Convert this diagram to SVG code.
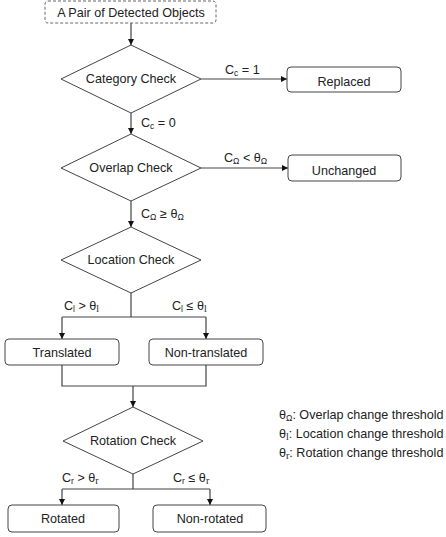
<svg xmlns="http://www.w3.org/2000/svg" width="446" height="537" viewBox="0 0 446 537">
<style>
text{font-family:"Liberation Sans",Arial,sans-serif;font-size:12.6px;fill:#222}
.c{text-anchor:middle}
.s{font-size:8.5px}
.sf{font-family:"Liberation Serif",serif;font-size:10px}
.box{fill:#fff;stroke:#444;stroke-width:1}
.dia{fill:#fff;stroke:#444;stroke-width:1}
.ln{fill:none;stroke:#444;stroke-width:1.2}
.ar{fill:none;stroke:#444;stroke-width:1.2;marker-end:url(#ah)}
</style>
<defs>
<marker id="ah" viewBox="0 0 10 10" refX="10" refY="5" markerWidth="6" markerHeight="6" markerUnits="userSpaceOnUse" orient="auto">
<path d="M0,0 L10,5 L0,10 z" fill="#111"/>
</marker>
</defs>
<rect width="446" height="537" fill="#fff"/>
<g id="connectors">
<path class="ar" d="M131,23 V45"/>
<path class="ar" d="M201,79 H287"/>
<path class="ar" d="M131,113 V134"/>
<path class="ar" d="M201,168 H288"/>
<path class="ar" d="M131,201 V227"/>
<path class="ln" d="M131,293 V317 M62,317 H206"/>
<path class="ar" d="M62,317 V339"/>
<path class="ar" d="M206,317 V339"/>
<path class="ln" d="M62,365 V386 H206 V365"/>
<path class="ar" d="M133,386 V407"/>
<path class="ln" d="M133,474 V489 M62,489 H210"/>
<path class="ar" d="M62,489 V505"/>
<path class="ar" d="M210,489 V505"/>
</g>
<g id="labels">
<text x="225" y="74">C<tspan class="s" dy="2">c</tspan><tspan dy="-2"> = 1</tspan></text>
<text x="141" y="127">C<tspan class="s" dy="2">c</tspan><tspan dy="-2"> = 0</tspan></text>
<text x="224" y="162">C<tspan class="s" dy="2">Ω</tspan><tspan dy="-2"> &lt; θ</tspan><tspan class="s" dy="2">Ω</tspan></text>
<text x="141" y="218">C<tspan class="s" dy="2">Ω</tspan><tspan dy="-2"> ≥ θ</tspan><tspan class="s" dy="2">Ω</tspan></text>
<text x="64" y="310">C<tspan class="s" dy="2">l</tspan><tspan dy="-2"> &gt; θ</tspan><tspan class="sf" dy="2">l</tspan></text>
<text x="172" y="310">C<tspan class="s" dy="2">l</tspan><tspan dy="-2"> ≤ θ</tspan><tspan class="sf" dy="2">l</tspan></text>
<text x="62" y="482">C<tspan class="s" dy="2">r</tspan><tspan dy="-2"> &gt; θ</tspan><tspan class="sf" dy="2">r</tspan></text>
<text x="173" y="482">C<tspan class="s" dy="2">r</tspan><tspan dy="-2"> ≤ θ</tspan><tspan class="sf" dy="2">r</tspan></text>
</g>
<g id="start">
<rect x="45" y="1" width="171" height="22" rx="3" fill="#fff" stroke="#666" stroke-dasharray="3,2"/>
<text class="c" x="131" y="17">A Pair of Detected Objects</text>
</g>
<g id="category">
<polygon class="dia" points="131,45 201,79 131,113 61,79"/>
<text class="c" x="131" y="83">Category Check</text>
</g>
<g id="replaced">
<rect class="box" x="287" y="67" width="114" height="25" rx="4"/>
<text class="c" x="344" y="86">Replaced</text>
</g>
<g id="overlap">
<polygon class="dia" points="131,134 201,168 131,201 61,168"/>
<text class="c" x="131" y="172">Overlap Check</text>
</g>
<g id="unchanged">
<rect class="box" x="288" y="155" width="113" height="26" rx="4"/>
<text class="c" x="344" y="175">Unchanged</text>
</g>
<g id="location">
<polygon class="dia" points="131,227 201,260 131,293 61,260"/>
<text class="c" x="131" y="264">Location Check</text>
</g>
<g id="translated">
<rect class="box" x="5" y="339" width="114" height="26" rx="4"/>
<text class="c" x="62" y="357">Translated</text>
</g>
<g id="nontranslated">
<rect class="box" x="149" y="339" width="114" height="26" rx="4"/>
<text class="c" x="206" y="357">Non-translated</text>
</g>
<g id="rotation">
<polygon class="dia" points="133,407 203,441 133,474 63,441"/>
<text class="c" x="133" y="445">Rotation Check</text>
</g>
<g id="rotated">
<rect class="box" x="8" y="505" width="111" height="27" rx="4"/>
<text class="c" x="63" y="523">Rotated</text>
</g>
<g id="nonrotated">
<rect class="box" x="153" y="505" width="113" height="27" rx="4"/>
<text class="c" x="210" y="523">Non-rotated</text>
</g>
<g id="legend">
<text x="279" y="419">θ<tspan class="s" dy="2">Ω</tspan><tspan dy="-2">: Overlap change threshold</tspan></text>
<text x="279" y="438">θ<tspan class="sf" dy="2">l</tspan><tspan dy="-2">: Location change threshold</tspan></text>
<text x="279" y="457">θ<tspan class="sf" dy="2">r</tspan><tspan dy="-2">: Rotation change threshold</tspan></text>
</g>
</svg>
